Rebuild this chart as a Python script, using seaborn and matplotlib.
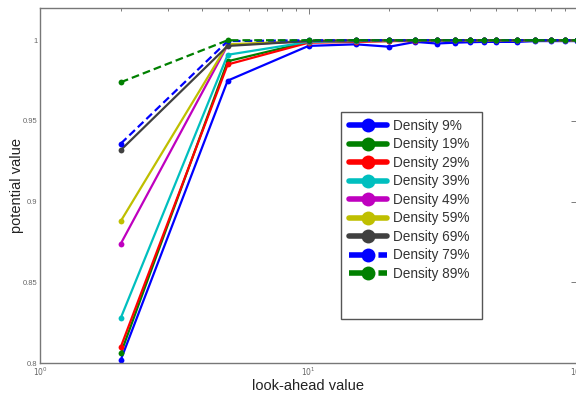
import numpy as np
import pandas as pd
import matplotlib
matplotlib.use("Agg")
import matplotlib.pyplot as plt
import seaborn as sns
from matplotlib.ticker import LogLocator, FixedLocator, FixedFormatter, NullFormatter
from matplotlib.patches import Rectangle

look_ahead = [2, 5, 10, 15, 20, 25, 30, 35, 40, 45, 50, 60, 70, 80, 90, 100]

d09 = [0.802, 0.975, 0.9965, 0.9975, 0.996, 0.999, 0.998, 0.9985, 0.9988, 0.999, 0.999, 0.999, 0.9995, 0.9995, 0.9995, 0.9995]
d19 = [0.806, 0.987, 0.999, 0.9995, 0.9995, 1.0, 1.0, 1.0, 1.0, 1.0, 1.0, 1.0, 1.0, 1.0, 1.0, 1.0]
d29 = [0.810, 0.985, 0.9985, 0.999, 0.9995, 0.9995, 1.0, 1.0, 1.0, 1.0, 1.0, 1.0, 1.0, 1.0, 1.0, 1.0]
d39 = [0.828, 0.991, 0.999, 0.9995, 1.0, 1.0, 1.0, 1.0, 1.0, 1.0, 1.0, 1.0, 1.0, 1.0, 1.0, 1.0]
d49 = [0.874, 0.997, 0.9995, 1.0, 1.0, 1.0, 1.0, 1.0, 1.0, 1.0, 1.0, 1.0, 1.0, 1.0, 1.0, 1.0]
d59 = [0.888, 0.9975, 0.9995, 1.0, 1.0, 1.0, 1.0, 1.0, 1.0, 1.0, 1.0, 1.0, 1.0, 1.0, 1.0, 1.0]
d69 = [0.932, 0.9965, 0.9995, 1.0, 1.0, 1.0, 1.0, 1.0, 1.0, 1.0, 1.0, 1.0, 1.0, 1.0, 1.0, 1.0]
d79 = [0.936, 0.9995, 1.0, 1.0, 1.0, 1.0, 1.0, 1.0, 1.0, 1.0, 1.0, 1.0, 1.0, 1.0, 1.0, 1.0]
d89 = [0.974, 1.0, 1.0, 1.0, 1.0, 1.0, 1.0, 1.0, 1.0, 1.0, 1.0, 1.0, 1.0, 1.0, 1.0, 1.0]

labels = ["Density 9%", "Density 19%", "Density 29%", "Density 39%", "Density 49%",
          "Density 59%", "Density 69%", "Density 79%", "Density 89%"]
series = [d09, d19, d29, d39, d49, d59, d69, d79, d89]

colors = ["#0000ff", "#008000", "#ff0000", "#00bfbf", "#bf00bf",
          "#bfbf00", "#404040", "#0000ff", "#008000"]
dashed = [False] * 7 + [True, True]

rows = []
for lab, vals in zip(labels, series):
    for xv, yv in zip(look_ahead, vals):
        rows.append({"look": xv, "value": yv, "series": lab})
df = pd.DataFrame(rows)

sns.set_theme(style="white")
plt.rcParams["font.family"] = ["Liberation Sans", "DejaVu Sans"]

fig = plt.figure(figsize=(5.76, 3.93), dpi=100)
ax = fig.add_axes([40 / 576, 1 - 363 / 393, 537 / 576, 355 / 393])

palette = dict(zip(labels, colors))
dashes = {lab: ((3.5, 1.8) if d else "") for lab, d in zip(labels, dashed)}
markers = {lab: "o" for lab in labels}

sns.lineplot(data=df, x="look", y="value", hue="series", style="series",
             palette=palette, dashes=dashes, markers=markers, markersize=4.2,
             markeredgewidth=0, linewidth=1.6, ax=ax, hue_order=labels,
             style_order=labels, sort=True)

ax.set_xscale("log")
ax.set_xlim(1, 100)
ax.set_ylim(0.8, 1.02)

ax.xaxis.set_major_locator(FixedLocator([1, 10, 100]))
ax.xaxis.set_major_formatter(FixedFormatter([r"$10^0$", r"$10^1$", r"$10^2$"]))
ax.xaxis.set_minor_locator(LogLocator(base=10, subs=np.arange(2, 10)))
ax.xaxis.set_minor_formatter(NullFormatter())
ax.set_yticks([0.8, 0.85, 0.9, 0.95, 1.0])
ax.set_yticklabels(["0.8", "0.85", "0.9", "0.95", "1"])

ax.tick_params(axis="both", which="both", direction="in", top=True, right=True,
               colors="#666666", labelsize=5.5, pad=2)
ax.tick_params(axis="both", which="major", length=4, width=0.6)
ax.tick_params(axis="both", which="minor", length=2.5, width=0.6)
for sp in ax.spines.values():
    sp.set_visible(True)
    sp.set_color("#777777")
    sp.set_linewidth(1.0)

ax.set_xlabel("look-ahead value", fontsize=10.5, color="#222222")
ax.set_ylabel("potential value", fontsize=10.5, color="#222222")
ax.xaxis.set_label_coords(0.5, -0.046, transform=ax.transAxes)
ax.yaxis.set_label_coords((17 - 40) / 537, 0.5, transform=ax.transAxes)
ax.xaxis.label.set_verticalalignment("top")
ax.yaxis.label.set_verticalalignment("center")

# legend box
box = Rectangle((341 / 576, 1 - 319 / 393), 141 / 576, 207 / 393,
                transform=fig.transFigure, facecolor="white",
                edgecolor="#555555", linewidth=1.0, zorder=4, clip_on=False)
ax.add_patch(box)
leg = ax.legend(loc="upper left", bbox_to_anchor=(349 / 576, 1 - 119 / 393),
                bbox_transform=fig.transFigure,
                frameon=False, fontsize=9.8, handlelength=2.8, handletextpad=0.4,
                labelspacing=0.33, borderpad=0.0, borderaxespad=0)
leg.set_zorder(6)
for h in leg.legend_handles:
    h.set_linewidth(4)
    h.set_markersize(10)
for t in leg.get_texts():
    t.set_color("#333333")

fig.savefig("out.png", dpi=100)
